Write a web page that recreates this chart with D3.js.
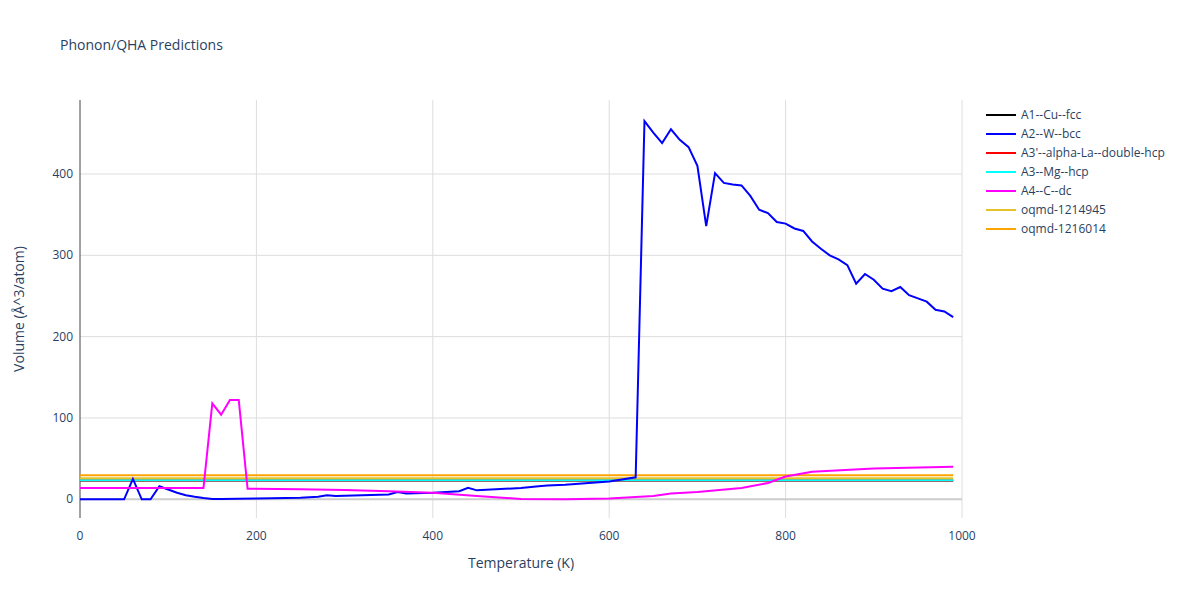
<!DOCTYPE html><html><head><meta charset="utf-8"><script src="https://cdn.jsdelivr.net/npm/d3@7"></script>
<style>body{margin:0;background:#fff;font-family:"Open Sans",sans-serif}</style></head><body><svg id="c" width="1200" height="600"></svg><script>
const names=["A1--Cu--fcc","A2--W--bcc","A3'--alpha-La--double-hcp","A3--Mg--hcp","A4--C--dc","oqmd-1214945","oqmd-1216014"];
const colors=["#000000","#0000ff","#ff0000","#00ffff","#ff00ff","#e6c229","#ffa500"];
const flatT=[0,990];
const cuV=[23,23], laV=[23.2,23.2], mgV=[23.5,23.5], o1V=[26,26], o2V=[29.5,29.5];
const wT=[0,10,20,30,40,50,60,70,80,90,100,110,120,130,140,150,160,200,250,270,280,290,300,350,360,370,400,430,440,450,500,520,530,550,600,630,640,650,660,670,680,690,700,710,720,730,740,750,760,770,780,790,800,810,820,830,840,850,860,870,880,890,900,910,920,930,940,950,960,970,980,990];
const wV=[0,0,0,0,0,0,25,0,0,16,12,8,5,3,1.5,0.5,0.5,1,2,3,5,4,4.5,6,9,7,8,10,14,11,14,16,17,18,22,27,465,451,438,455,442,433,410,336,401,389,387,386,373,356,352,341,339,333,330,317,308,300,295,288,265,277,270,259,256,261,251,247,243,233,231,224];
const cT=[0,50,100,140,150,160,170,180,190,250,300,350,400,450,500,550,600,650,670,700,750,780,800,830,900,990];
const cV=[14,14,14,14,118,104,122,122,13,12.5,11.5,10,8,4,0.5,0,1,4,7,9,14,20,28,34,38,40];
const series=[[flatT,cuV],[wT,wV],[flatT,laV],[flatT,mgV],[cT,cV],[flatT,o1V],[flatT,o2V]];
const xTicks=[0,200,400,600,800,1000], yTicks=[0,100,200,300,400];
const svg=d3.select("#c");
const m={l:80,r:962,t:100,b:518};
const x=d3.scaleLinear().domain([0,1000]).range([m.l,m.r]);
const y=d3.scaleLinear().domain([-23,491]).range([m.b,m.t]);
const g=svg.append("g");
g.selectAll(".gx").data(xTicks.slice(1)).enter().append("line").attr("x1",d=>x(d)).attr("x2",d=>x(d)).attr("y1",m.t).attr("y2",m.b).attr("stroke","#ddd");
g.selectAll(".gy").data(yTicks).enter().append("line").attr("x1",m.l).attr("x2",m.r).attr("y1",d=>y(d)).attr("y2",d=>y(d)).attr("stroke",d=>d===0?"#ccc":"#ddd").attr("stroke-width",d=>d===0?2:1);
svg.append("line").attr("x1",m.l).attr("x2",m.l).attr("y1",m.t).attr("y2",m.b).attr("stroke","#444");
const tf="#2a3f5f";
svg.selectAll(".xt").data(xTicks).enter().append("text").attr("x",d=>x(d)).attr("y",m.b+22).attr("text-anchor","middle").attr("font-size",12).attr("fill",tf).text(d=>d);
svg.selectAll(".yt").data(yTicks).enter().append("text").attr("x",m.l-7).attr("y",d=>y(d)+4).attr("text-anchor","end").attr("font-size",12).attr("fill",tf).text(d=>d);
svg.append("text").attr("x",(m.l+m.r)/2).attr("y",568).attr("text-anchor","middle").attr("font-size",14).attr("fill",tf).text("Temperature (K)");
svg.append("text").attr("transform",`translate(24,${(m.t+m.b)/2}) rotate(-90)`).attr("text-anchor","middle").attr("font-size",14).attr("fill",tf).text("Volume (Å^3/atom)");
svg.append("text").attr("x",60).attr("y",50).attr("font-size",14).attr("fill",tf).text("Phonon/QHA Predictions");
const line=d3.line().x(d=>x(d[0])).y(d=>y(d[1]));
const order=[0,2,3,5,6,1,4];
order.forEach(i=>{const [T,V]=series[i];svg.append("path").attr("d",line(T.map((t,k)=>[t,V[k]]))).attr("fill","none").attr("stroke",colors[i]).attr("stroke-width",2);});
names.forEach((n,i)=>{const yy=115+i*19;svg.append("line").attr("x1",986).attr("x2",1016).attr("y1",yy).attr("y2",yy).attr("stroke",colors[i]).attr("stroke-width",2);
svg.append("text").attr("x",1021).attr("y",yy+4).attr("font-size",12).attr("fill",tf).text(n);});
</script></body></html>
